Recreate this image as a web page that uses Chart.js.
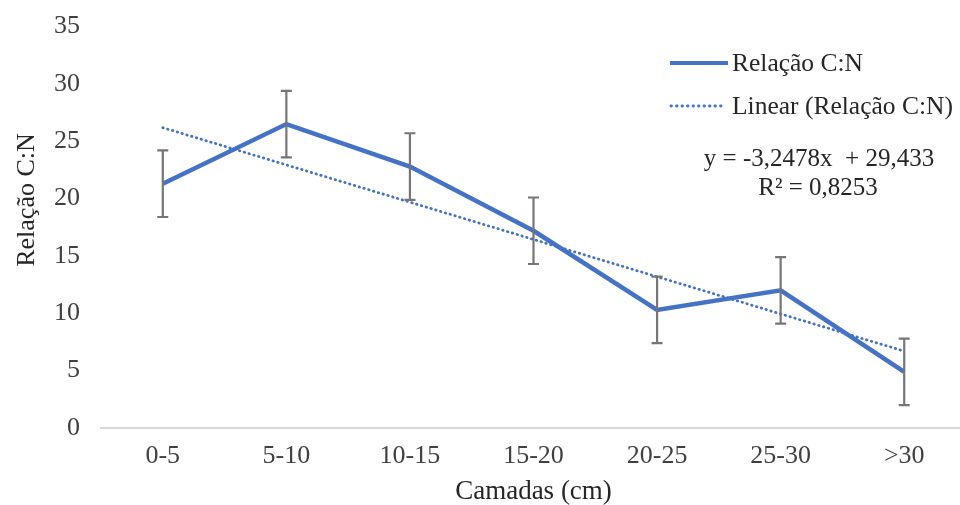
<!DOCTYPE html>
<html lang="pt">
<head>
  <meta charset="UTF-8">
  <title>Relação C:N por camada</title>
  <script src="https://cdn.jsdelivr.net/npm/chart.js"></script>
  <style>
    html, body { margin: 0; padding: 0; background: #fff; overflow: hidden; }
    .grafico { position: relative; top: -10px; width: 968px; height: 515px; }
  </style>
</head>
<body>
  <div class="grafico">
    <canvas id="graficoCN"></canvas>
  </div>

<script>
  // dados lidos por camada
  var camadas = ['0-5', '5-10', '10-15', '15-20', '20-25', '25-30', '>30'];
  var relacaoCN = [21.3, 26.5, 22.8, 17.2, 10.3, 12.0, 4.9];
  var erroCN = [2.9, 2.9, 2.9, 2.9, 2.9, 2.9, 2.9];
  // linha de tendencia: y = -3,2478x + 29,433
  var tendencia = [26.19, 22.94, 19.69, 16.44, 13.19, 9.95, 6.70];
  var ticksY = [0, 5, 10, 15, 20, 25, 30, 35];

  var azul = '#4472C4';
  var fonte = 'Liberation Serif, Times New Roman, serif';

  // barras de erro, legenda e equacao desenhadas por cima
  // (o canvas esta deslocado 10px para cima, dai o +10 nas posicoes fixas)
  var extras = {
    id: 'extras',
    afterDatasetsDraw: function (chart) {
      var ctx = chart.ctx;
      var x = chart.scales.x, y = chart.scales.y;
      ctx.save();
      ctx.strokeStyle = '#767676';
      ctx.lineWidth = 2.2;
      for (let i = 0; i < relacaoCN.length; i++) {
        var px = x.getPixelForValue(i);
        var yt = y.getPixelForValue(relacaoCN[i] + erroCN[i]);
        var yb = y.getPixelForValue(relacaoCN[i] - erroCN[i]);
        ctx.beginPath();
        ctx.moveTo(px, yt); ctx.lineTo(px, yb);
        ctx.moveTo(px - 5.5, yt); ctx.lineTo(px + 5.5, yt);
        ctx.moveTo(px - 5.5, yb); ctx.lineTo(px + 5.5, yb);
        ctx.stroke();
      }
      ctx.restore();
    },
    afterDraw: function (chart) {
      var ctx = chart.ctx;
      var ds = chart.data.datasets;
      ctx.save();
      ctx.translate(0, 10);

      // legenda
      ctx.strokeStyle = azul;
      ctx.lineWidth = 4;
      ctx.beginPath(); ctx.moveTo(670, 63); ctx.lineTo(728, 63); ctx.stroke();
      ctx.lineWidth = 2.8;
      ctx.lineCap = 'round';
      ctx.setLineDash([0.5, 5]);
      ctx.beginPath(); ctx.moveTo(671, 106); ctx.lineTo(723, 106); ctx.stroke();
      ctx.setLineDash([]);

      ctx.fillStyle = '#262626';
      ctx.font = '25.5px ' + fonte;
      ctx.textAlign = 'left';
      ctx.textBaseline = 'middle';
      ctx.fillText(ds[0].label, 732, 64);
      ctx.fillText(ds[1].label, 732, 107);

      // equacao
      ctx.font = '25px ' + fonte;
      ctx.textAlign = 'center';
      ctx.fillText('y = -3,2478x  + 29,433', 819, 159);
      ctx.fillText('R² = 0,8253', 818, 188);

      // titulo do eixo Y
      ctx.font = '26px ' + fonte;
      ctx.translate(27, 200);
      ctx.rotate(-Math.PI / 2);
      ctx.fillText('Relação C:N', 0, 0);
      ctx.restore();
    }
  };

  var ctx = document.getElementById('graficoCN').getContext('2d');

  new Chart(ctx, {
    type: 'line',
    data: {
      labels: camadas,
      datasets: [
        {
          label: 'Relação C:N',
          data: relacaoCN,
          borderColor: azul,
          borderWidth: 4.5,
          pointRadius: 0,
          tension: 0,
          order: 1
        },
        {
          label: 'Linear (Relação C:N)',
          data: tendencia,
          borderColor: azul,
          borderWidth: 2.8,
          borderDash: [0.5, 4.5],
          borderCapStyle: 'round',
          pointRadius: 0,
          tension: 0,
          order: 2
        }
      ]
    },
    options: {
      responsive: true,
      maintainAspectRatio: false,
      animation: false,
      layout: { padding: { top: 14, right: 2, left: 0, bottom: 0 } },
      plugins: {
        legend: { display: false },
        tooltip: { enabled: false }
      },
      scales: {
        x: {
          offset: true,
          grid: { display: false, drawTicks: false },
          border: { display: true, color: '#d9d9d9', width: 2 },
          ticks: {
            padding: 13,
            color: '#404040',
            font: { family: fonte, size: 26 },
            maxRotation: 0
          },
          title: {
            display: true,
            text: 'Camadas (cm)',
            color: '#262626',
            font: { family: fonte, size: 27, lineHeight: 1 },
            padding: { top: 0, bottom: 0 }
          },
          afterFit: function (scale) { scale.height = 77; }
        },
        y: {
          min: 0,
          max: 35,
          afterBuildTicks: function (scale) {
            scale.ticks = ticksY.map(function (v) { return { value: v }; });
          },
          grid: { display: false, drawTicks: false },
          border: { display: false },
          ticks: {
            padding: 21,
            color: '#404040',
            font: { family: fonte, size: 26 }
          },
          afterFit: function (scale) { scale.width = 101; }
        }
      }
    },
    plugins: [extras]
  });
</script>
</body>
</html>
